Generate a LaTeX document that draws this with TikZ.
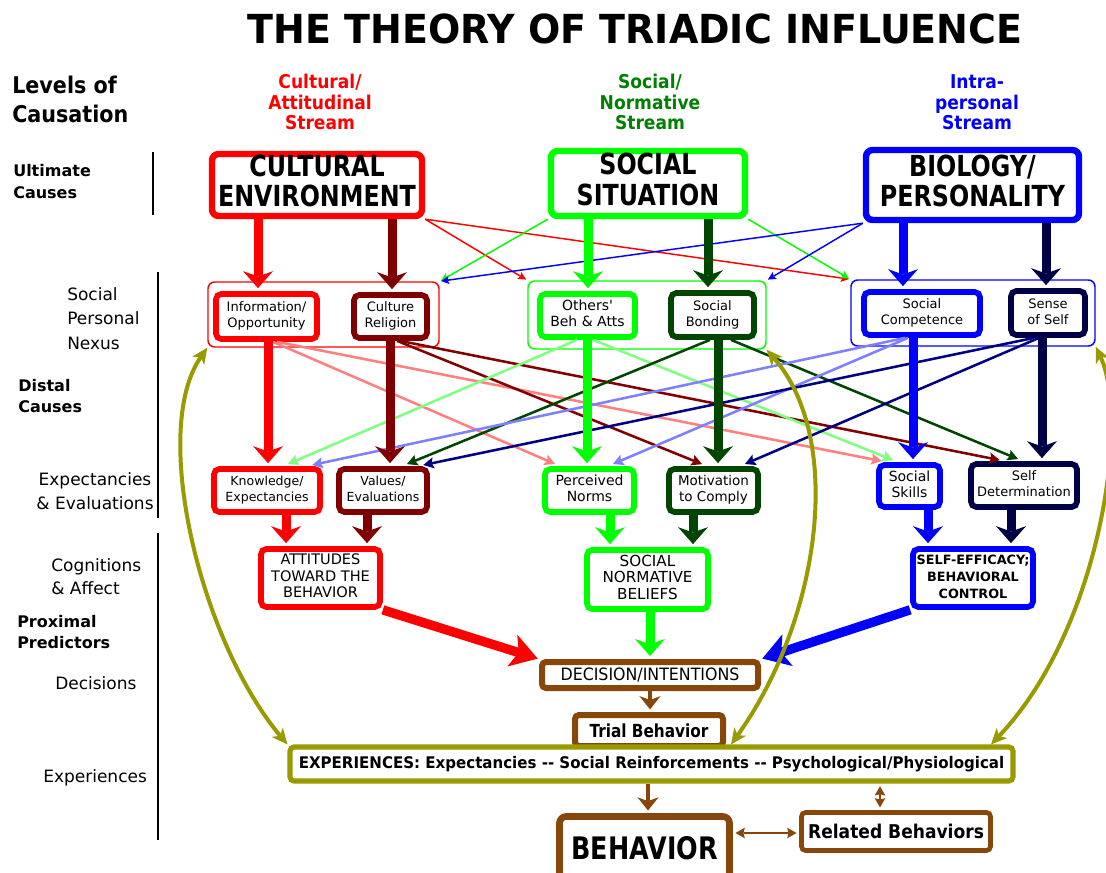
\documentclass[tikz,border=0pt]{standalone}
\usepackage{fontspec}
\setmainfont{DejaVu Sans}
\usepackage{graphicx}
\usetikzlibrary{arrows.meta,fit,calc}
\definecolor{cred}{RGB}{255,0,0}
\definecolor{cdred}{RGB}{128,0,0}
\definecolor{cgreen}{RGB}{0,255,0}
\definecolor{cdgreen}{RGB}{0,70,0}
\definecolor{cblue}{RGB}{0,0,255}
\definecolor{cnavy}{RGB}{0,0,70}
\definecolor{cnavy2}{RGB}{0,0,128}
\definecolor{cpink}{RGB}{255,128,128}
\definecolor{clgreen}{RGB}{128,255,128}
\definecolor{clblue}{RGB}{128,128,255}
\definecolor{cbrown}{RGB}{135,70,10}
\definecolor{colive}{RGB}{153,153,0}
\definecolor{chgreen}{RGB}{0,128,0}
\newcommand\mySB[2]{\scalebox{#1}[1]{#2}}
\newcommand\myTC[1]{\begin{tabular}{@{}c@{}}#1\end{tabular}}
\newcommand\myTT[2]{\begin{tabular}[t]{@{}#1@{}}#2\end{tabular}}
% box: [inset]{box style}{name}{x1}{y1}{x2}{y2}{text style}{text}
\newcommand\mybx[9][3]{\node[#2,inner sep=0pt,fit={(#4+#1,#5+#1) (#6-#1,#7-#1)}] (#3) {};
  \node[inner sep=0pt,anchor=center,#8] (#3t) at (#3.center) {#9};}
\tikzset{
  bigbox/.style={draw=#1, line width=4.8pt, rounded corners=5pt, fill=white},
  ibox/.style={draw=#1, line width=4.3pt, rounded corners=4pt, fill=white},
  cont/.style={draw=#1, line width=1.1pt, rounded corners=5pt},
  brbox/.style={draw=cbrown, line width=4.5pt, rounded corners=3pt, fill=white},
  expbox/.style={draw=colive, line width=3.8pt, rounded corners=3pt, fill=white},
  tbig/.style={font=\bfseries\fontsize{21.75pt}{21.75pt}\selectfont},
  tsm/.style={font=\fontsize{#1pt}{12pt}\selectfont},
  tsm/.default=9.75,
  lbl/.style={inner sep=0pt, anchor=base west},
  vthick/.style={draw=#1, line width=6.75pt, -{Stealth[length=12.75pt,width=22.5pt,inset=4pt,line width=0pt]}, shorten >=2.25pt},
  bigdiag/.style={draw=#1, line width=7pt, -{Stealth[length=20pt,width=25pt,inset=5pt,line width=0pt]}, shorten >=1pt},
  mdiag/.style={draw=#1, line width=1.9pt, -{Stealth[length=8pt,width=8.5pt,inset=1.5pt,line width=0pt]}, shorten >=4pt},
  tdiag/.style={draw=#1, line width=1.1pt, -{Stealth[length=6pt,width=6pt,inset=1pt,line width=0pt]}, shorten >=1pt},
  brarr/.style={draw=cbrown, line width=3.5pt, -{Stealth[length=10pt,width=16pt,inset=3pt,line width=0pt]}, shorten >=2pt},
  brdbl/.style={draw=cbrown, line width=1.5pt, {Stealth[length=7pt,width=8pt,inset=1pt,line width=0pt]}-{Stealth[length=7pt,width=8pt,inset=1pt,line width=0pt]}, shorten >=2pt, shorten <=2pt},
  olv/.style={draw=colive, line width=3pt, {Stealth[length=12pt,width=11pt,inset=3.5pt,line width=0pt]}-{Stealth[length=12pt,width=11pt,inset=3.5pt,line width=0pt]}},
  vbar/.style={line width=1.9pt}
}
\begin{document}
\begin{tikzpicture}[x=0.75pt,y=-0.75pt]
\useasboundingbox (0,0) rectangle (1106,873);
\fill[white] (0,0) rectangle (1106,873);
% title
\node[inner sep=0pt, anchor=base, font=\bfseries\fontsize{30pt}{30pt}\selectfont] (title) at (635,44) {\mySB{0.95}{THE THEORY OF TRIADIC INFLUENCE}};
% stream headings
\node[inner sep=0pt, anchor=base, text=cred, font=\bfseries\fontsize{14.25pt}{14.6pt}\selectfont] (s1) at (320,89) {\mySB{0.9}{\myTT{c}{Cultural/\\Attitudinal\\Stream}}};
\node[inner sep=0pt, anchor=base, text=chgreen, font=\bfseries\fontsize{14.25pt}{14.6pt}\selectfont] (s2) at (650,89) {\mySB{0.9}{\myTT{c}{Social/\\Normative\\Stream}}};
\node[inner sep=0pt, anchor=base, text=cblue, font=\bfseries\fontsize{14.25pt}{14.6pt}\selectfont] (s3) at (977,89) {\mySB{0.9}{\myTT{c}{Intra-\\personal\\Stream}}};
% left labels
\node[lbl, font=\bfseries\fontsize{17.25pt}{21.75pt}\selectfont] (lev) at (12,94) {\mySB{0.9}{\myTT{l}{Levels of\\Causation}}};
\node[lbl, font=\bfseries\fontsize{12pt}{16.5pt}\selectfont] (ult) at (13,177) {\myTT{l}{Ultimate\\Causes}};
\node[lbl, font=\fontsize{12.75pt}{18pt}\selectfont] (nexl) at (67,301) {\myTT{l}{Social\\Personal\\Nexus}};
\node[lbl, font=\bfseries\fontsize{12pt}{15.75pt}\selectfont] (dist) at (18,392) {\myTT{l}{Distal\\Causes}};
\node[lbl, anchor=base, font=\fontsize{12.75pt}{18pt}\selectfont] (expl) at (95,485) {\myTT{c}{Expectancies\\\& Evaluations}};
\node[lbl, font=\fontsize{12.75pt}{17.25pt}\selectfont] (cogl) at (51,571) {\myTT{l}{Cognitions\\\& Affect}};
\node[lbl, font=\bfseries\fontsize{12pt}{15.75pt}\selectfont] (prox) at (17,627) {\myTT{l}{Proximal\\Predictors}};
\node[lbl, font=\fontsize{12.75pt}{18pt}\selectfont] (decl) at (55,689) {Decisions};
\node[lbl, font=\fontsize{12.75pt}{18pt}\selectfont] (expel) at (43,782) {Experiences};
\draw[vbar] (153,152) -- (153,215);
\draw[vbar] (158,272) -- (158,518);
\draw[vbar] (158,533) -- (158,840);
% containers
\mybx[1]{cont=cred}{rnex}{207}{281}{440}{348}{}{}
\mybx[1]{cont=cgreen}{gnex}{527}{280}{767}{350}{}{}
\mybx[1]{cont=cblue}{bnex}{850}{279}{1096}{347}{}{}
% top boxes
\mybx{bigbox=cred}{cult}{209}{151}{425}{219}{tbig}{\mySB{0.82}{\myTC{CULTURAL\\ENVIRONMENT}}}
\mybx{bigbox=cgreen}{soc}{548}{148}{748}{219}{tbig}{\mySB{0.82}{\myTC{SOCIAL\\SITUATION}}}
\mybx{bigbox=cblue}{bio}{863}{147}{1082}{223}{tbig}{\mySB{0.82}{\myTC{BIOLOGY/\\PERSONALITY}}}
% top-level thin diagonals
\draw[tdiag=cred] (cult.south east) -- (bnex.north west);
\draw[tdiag=cred] (cult.south east) -- (gnex.north west);
\draw[tdiag=cgreen] (soc.south west) -- (rnex.north east);
\draw[tdiag=cgreen] (soc.south east) -- (bnex.north west);
\draw[tdiag=cblue] (bio.south west) -- (rnex.north east);
\draw[tdiag=cblue] (bio.south west) -- (gnex.north east);
% nexus boxes
\mybx{ibox=cred}{info}{213}{291}{320}{342}{tsm}{\myTC{Information/\\Opportunity}}
\mybx{ibox=cdred}{cr}{351}{292}{430}{341}{tsm}{\myTC{Culture\\Religion}}
\mybx{ibox=cgreen}{oth}{537}{291}{638}{340}{tsm=10.5}{\myTC{Others\textquotesingle\\Beh \& Atts}}
\mybx{ibox=cdgreen}{sb}{668}{290}{757}{340}{tsm}{\myTC{Social\\Bonding}}
\mybx{ibox=cblue}{sc}{861}{289}{983}{338}{tsm}{\myTC{Social\\Competence}}
\mybx{ibox=cnavy}{sos}{1008}{288}{1088}{338}{tsm}{\myTC{Sense\\of Self}}
% expectancy boxes
\mybx{ibox=cred}{know}{211}{466}{323}{515}{tsm=9.4}{\myTC{Knowledge/\\Expectancies}}
\mybx{ibox=cdred}{val}{336}{466}{430}{515}{tsm=9.4}{\myTC{Values/\\Evaluations}}
\mybx{ibox=cgreen}{perc}{542}{466}{637}{515}{tsm=10.5}{\myTC{Perceived\\Norms}}
\mybx{ibox=cdgreen}{mot}{666}{466}{761}{515}{tsm=10.1}{\myTC{Motivation\\to Comply}}
\mybx{ibox=cblue}{skill}{876}{462}{943}{510}{tsm=10.5}{\myTC{Social\\Skills}}
\mybx{ibox=cnavy}{sdet}{968}{461}{1080}{510}{tsm}{\myTC{Self\\Determination}}
% mid diagonals
\draw[mdiag=cpink] (info.south -| 273,0) -- (perc.north -| 560,0);
\draw[mdiag=cpink] (info.south -| 277,0) -- (skill.north -| 887,0);
\draw[mdiag=cdred] (cr.south -| 397,0) -- (mot.north -| 707,0);
\draw[mdiag=cdred] (cr.south -| 400,0) -- (sdet.north -| 1005,0);
\draw[mdiag=clgreen] (oth.south -| 577,0) -- (know.north -| 283,0);
\draw[mdiag=clgreen] (oth.south -| 593,0) -- (skill.north -| 898,0);
\draw[mdiag=cdgreen] (sb.south -| 710,0) -- (val.north -| 402,0);
\draw[mdiag=cdgreen] (sb.south -| 731,0) -- (sdet.north -| 1023,0);
\draw[mdiag=clblue] (sc.south -| 905,0) -- (know.north -| 307,0);
\draw[mdiag=clblue] (sc.south -| 908,0) -- (perc.north -| 608,0);
\draw[mdiag=cnavy2] (sos.south -| 1034,0) -- (val.north -| 418,0);
\draw[mdiag=cnavy2] (sos.south -| 1039,0) -- (mot.north -| 740,0);
% cognition boxes
\mybx{ibox=cred}{att}{258}{546}{383}{610}{font=\fontsize{10.9pt}{12.4pt}\selectfont}{\myTC{ATTITUDES\\TOWARD THE\\BEHAVIOR}}
\mybx{ibox=cgreen}{snb}{584}{547}{711}{612}{font=\fontsize{11.4pt}{12.4pt}\selectfont}{\myTC{SOCIAL\\NORMATIVE\\BELIEFS}}
\mybx{ibox=cblue}{se}{910}{546}{1036}{610}{font=\bfseries\fontsize{9.6pt}{12.75pt}\selectfont}{\myTC{SELF-EFFICACY;\\BEHAVIORAL\\CONTROL}}
% decision, trial, experiences, behavior
\mybx{brbox}{deci}{539}{659}{761}{691}{font=\fontsize{12.75pt}{12.75pt}\selectfont}{\mySB{0.93}{DECISION/INTENTIONS}}
\mybx{brbox}{trial}{572}{712}{726}{749}{font=\bfseries\fontsize{13.5pt}{13.5pt}\selectfont}{\mySB{0.85}{Trial Behavior}}
\mybx{expbox}{exper}{287}{744}{1016}{784}{font=\bfseries\fontsize{12pt}{12pt}\selectfont}{\mySB{0.94}{EXPERIENCES: Expectancies -{}- Social Reinforcements -{}- Psychological/Physiological}}
\mybx[3.5]{brbox, line width=5pt, rounded corners=5pt}{beh}{556}{813}{733}{883}{font=\bfseries\fontsize{23.25pt}{23.25pt}\selectfont}{\mySB{0.82}{BEHAVIOR}}
\mybx[2.5]{brbox, line width=3.5pt}{rel}{799}{810}{993}{853}{font=\bfseries\fontsize{14.25pt}{14.25pt}\selectfont}{\mySB{0.9}{Related Behaviors}}
% vertical thick arrows
\draw[vthick=cred] (cult.south -| 258,0) -- (info.north -| 258,0);
\draw[vthick=cdred] (cult.south -| 392,0) -- (cr.north -| 392,0);
\draw[vthick=cgreen] (soc.south -| 588,0) -- (oth.north -| 588,0);
\draw[vthick=cdgreen] (soc.south -| 708,0) -- (sb.north -| 708,0);
\draw[vthick=cblue] (bio.south -| 903,0) -- (sc.north -| 903,0);
\draw[vthick=cnavy] (bio.south -| 1046,0) -- (sos.north -| 1046,0);
\draw[vthick=cred] (info.south -| 268,0) -- (know.north -| 268,0);
\draw[vthick=cdred] (cr.south -| 390,0) -- (val.north -| 390,0);
\draw[vthick=cgreen] (oth.south -| 587,0) -- (perc.north -| 587,0);
\draw[vthick=cdgreen] (sb.south -| 718,0) -- (mot.north -| 718,0);
\draw[vthick=cblue] (sc.south -| 913,0) -- (skill.north -| 913,0);
\draw[vthick=cnavy] (sos.south -| 1042,0) -- (sdet.north -| 1042,0);
\draw[vthick=cred] (know.south -| 286,0) -- (att.north -| 286,0);
\draw[vthick=cdred] (val.south -| 367,0) -- (att.north -| 367,0);
\draw[vthick=cgreen] (perc.south -| 610,0) -- (snb.north -| 610,0);
\draw[vthick=cdgreen] (mot.south -| 693,0) -- (snb.north -| 693,0);
\draw[vthick=cblue] (skill.south -| 928,0) -- (se.north -| 928,0);
\draw[vthick=cnavy] (sdet.south -| 1011,0) -- (se.north -| 1011,0);
\draw[vthick=cgreen] (snb.south -| 650,0) -- (deci.north -| 650,0);
\draw[bigdiag=cred] (att.south east) -- (deci.north west);
\draw[bigdiag=cblue] (se.south west) -- (deci.north east);
\draw[brarr] (deci.south -| 650,0) -- (trial.north -| 650,0);
\draw[brarr] (exper.south -| 648,0) -- (beh.north -| 648,0);
\draw[brdbl] (beh.east |- 0,833) -- (rel.west |- 0,833);
\draw[brdbl] (exper.south -| 880,0) -- (rel.north -| 880,0);
% feedback curves
\draw[olv] (exper.north west) .. controls (200,640) and (150,430) .. (rnex.south west);
\draw[olv] (exper.north -| 731,0) .. controls (820,620) and (845,440) .. (gnex.south east);
\draw[olv] (exper.north -| 991,0) .. controls (1100,630) and (1130,420) .. (bnex.south east);
\end{tikzpicture}
\end{document}
